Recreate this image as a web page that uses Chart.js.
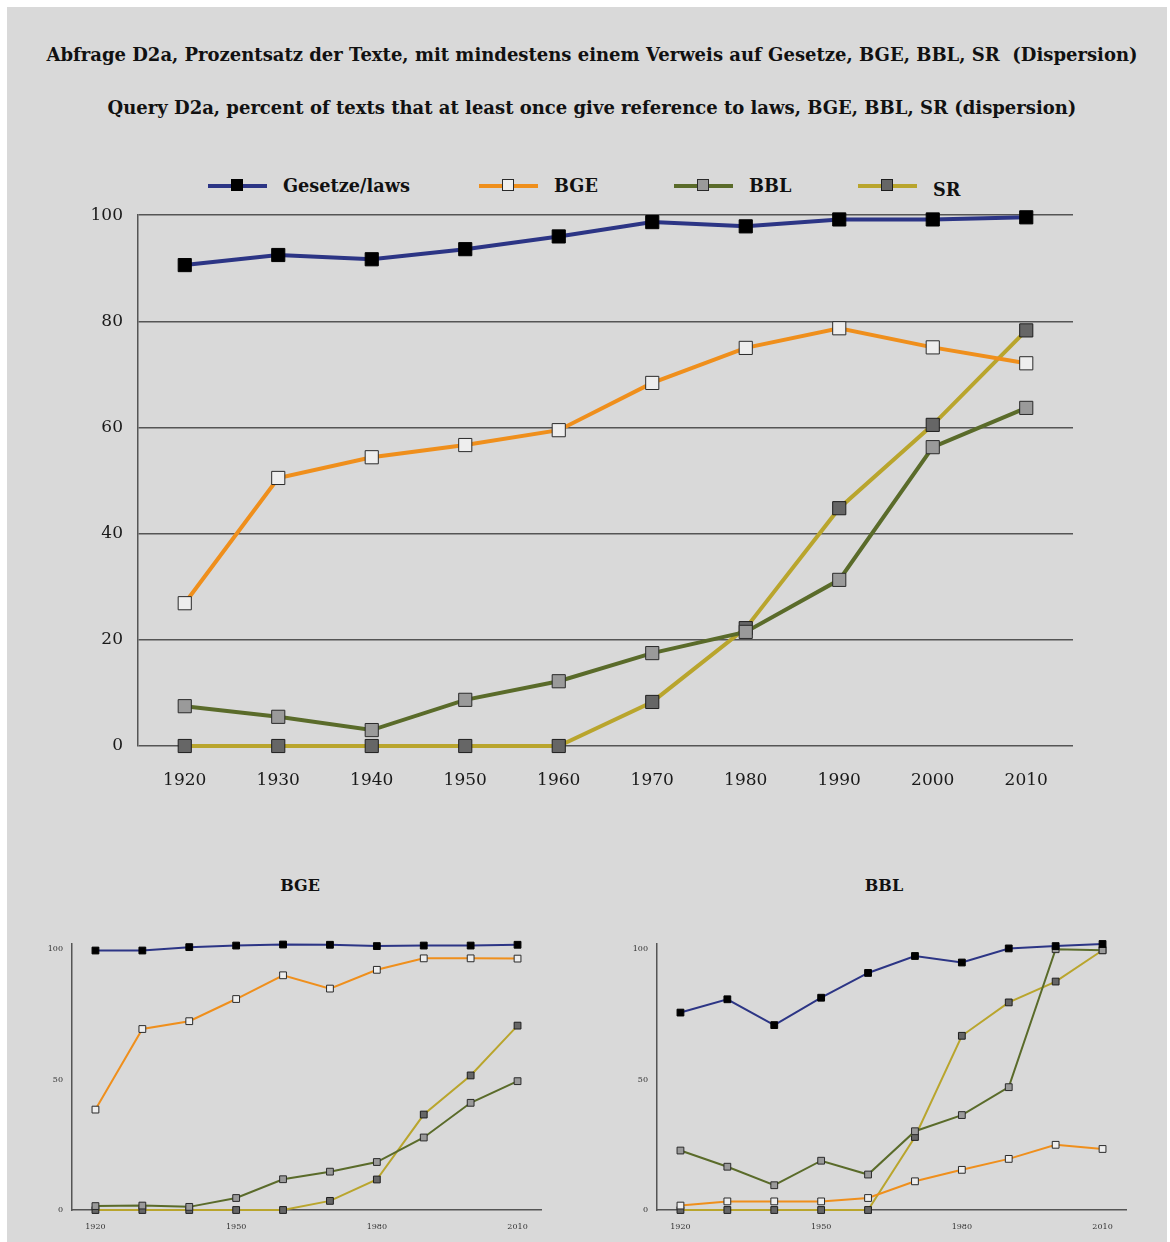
<!DOCTYPE html>
<html>
<head>
<meta charset="utf-8">
<script src="https://cdn.jsdelivr.net/npm/chart.js@4.4.1/dist/chart.umd.min.js"></script>
<style>
  html, body { margin: 0; padding: 0; background: #fff; }
  body { position: relative; width: 1170px; height: 1242px; overflow: hidden; font-family: 'DejaVu Serif', serif; color: #111; }
  #blatt { position: absolute; left: 7px; top: 7px; width: 1160px; height: 1235px; background: #d9d9d9; }
  .titel { position: absolute; left: 7px; width: 1170px; text-align: center; font-weight: bold; font-size: 18px; line-height: 20px; white-space: nowrap; }
  .legende { position: absolute; top: 177px; height: 18px; }
  .legende .linie { position: absolute; top: 7px; width: 59px; height: 4px; }
  .legende .punkt { position: absolute; top: 2px; width: 12px; height: 12px; box-sizing: border-box; border: 1px solid #222; }
  .legende .text { position: absolute; top: -2px; font-weight: bold; font-size: 17.7px; white-space: nowrap; }
  .box { position: absolute; }
  .untertitel { position: absolute; top: 876px; width: 200px; text-align: center; font-weight: bold; font-size: 16px; line-height: 20px; }
</style>
</head>
<body>
<div id="blatt"></div>
<div class="titel" style="top:45px">Abfrage D2a, Prozentsatz der Texte, mit mindestens einem Verweis auf Gesetze, BGE, BBL, SR&nbsp; (Dispersion)</div>
<div class="titel" style="top:98px">Query D2a, percent of texts that at least once give reference to laws, BGE, BBL, SR (dispersion)</div>

<div id="legende"></div>

<div class="box" style="left:0; top:190px; width:1170px; height:620px"><canvas id="grafikGesamt"></canvas></div>

<div class="untertitel" style="left:200px">BGE</div>
<div class="untertitel" style="left:784px">BBL</div>
<div class="box" style="left:0; top:860px; width:585px; height:382px"><canvas id="grafikBge"></canvas></div>
<div class="box" style="left:585px; top:860px; width:585px; height:382px"><canvas id="grafikBbl"></canvas></div>

<script>
const jahre = ['1920', '1930', '1940', '1950', '1960', '1970', '1980', '1990', '2000', '2010'];
const jahreKlein = ['1920', '1950', '1980', '2010'];
const yWerteGross = [0, 20, 40, 60, 80, 100];
const yWerteKlein = [0, 50, 100];

// Hauptgrafik
const gesetze = [90.6, 92.5, 91.7, 93.6, 96.0, 98.7, 97.9, 99.2, 99.2, 99.6];
const bge = [26.9, 50.5, 54.4, 56.7, 59.5, 68.4, 75.0, 78.7, 75.1, 72.1];
const bbl = [7.5, 5.5, 3.0, 8.7, 12.2, 17.5, 21.5, 31.3, 56.3, 63.7];
const sr = [0, 0, 0, 0, 0, 8.3, 22.2, 44.8, 60.5, 78.3];

// Teilgrafik BGE
const bgeGesetze = [99.5, 99.5, 100.8, 101.4, 101.8, 101.7, 101.2, 101.4, 101.4, 101.7];
const bgeBge = [38.5, 69.4, 72.4, 80.9, 90.0, 84.9, 92.1, 96.5, 96.5, 96.4];
const bgeBbl = [1.5, 1.7, 1.2, 4.6, 11.8, 14.7, 18.4, 27.8, 41.1, 49.4];
const bgeSr = [0, 0, 0, 0, 0, 3.5, 11.7, 36.6, 51.6, 70.7];

// Teilgrafik BBL
const bblGesetze = [75.7, 80.8, 70.9, 81.4, 90.9, 97.4, 94.9, 100.3, 101.2, 102.0];
const bblBge = [1.7, 3.3, 3.3, 3.3, 4.6, 11.0, 15.4, 19.6, 25.0, 23.4];
const bblBbl = [22.8, 16.6, 9.5, 18.9, 13.6, 30.2, 36.4, 47.1, 100.0, 99.6];
const bblSr = [0, 0, 0, 0, 0, 28.0, 66.8, 79.6, 87.6, 99.6];

const farben = {
  gesetze: { linie: '#2c3585', punkt: '#000000', rand: '#000000' },
  bge: { linie: '#ef8f1c', punkt: '#eeeeee', rand: '#2a2a2a' },
  bbl: { linie: '#5a6b2a', punkt: '#9a9a9a', rand: '#2a2a2a' },
  sr: { linie: '#b9a52d', punkt: '#666666', rand: '#1e1e1e' }
};

// Legende oben
const legendeEintraege = [
  { name: 'Gesetze/laws', farbe: farben.gesetze, x: 208, dy: 0 },
  { name: 'BGE', farbe: farben.bge, x: 479, dy: 0 },
  { name: 'BBL', farbe: farben.bbl, x: 674, dy: 0 },
  { name: 'SR', farbe: farben.sr, x: 858, dy: 4 }
];
const legende = document.getElementById('legende');
legendeEintraege.forEach(e => {
  const el = document.createElement('div');
  el.className = 'legende';
  el.style.left = e.x + 'px';
  el.innerHTML =
    '<div class="linie" style="left:0;background:' + e.farbe.linie + '"></div>' +
    '<div class="punkt" style="left:23px;background:' + e.farbe.punkt + ';border-color:' + e.farbe.rand + '"></div>' +
    '<div class="text" style="left:75px;top:' + (e.dy - 2) + 'px">' + e.name + '</div>';
  legende.appendChild(el);
});

function reihe(name, daten, farbe, dicke, radius) {
  return {
    label: name,
    data: daten,
    borderColor: farbe.linie,
    borderWidth: dicke,
    backgroundColor: farbe.punkt,
    pointBackgroundColor: farbe.punkt,
    pointBorderColor: farbe.rand,
    pointBorderWidth: 1,
    pointStyle: 'rect',
    pointRadius: radius,
    pointHoverRadius: radius,
    tension: 0,
    fill: false,
    clip: false
  };
}

const schrift = { family: "'DejaVu Serif', serif", size: 17 };

new Chart(document.getElementById('grafikGesamt'), {
  type: 'line',
  data: {
    labels: jahre,
    datasets: [
      reihe('Gesetze/laws', gesetze, farben.gesetze, 4, 9.3),
      reihe('BGE', bge, farben.bge, 4, 9.3),
      reihe('BBL', bbl, farben.bbl, 4, 9.3),
      reihe('SR', sr, farben.sr, 4, 9.3)
    ]
  },
  options: {
    responsive: true,
    maintainAspectRatio: false,
    animation: false,
    layout: { padding: { left: 60, right: 97, top: 25, bottom: 14 } },
    plugins: { legend: { display: false }, tooltip: { enabled: false } },
    scales: {
      x: {
        offset: true,
        grid: { display: false, drawTicks: false },
        border: { display: false },
        ticks: { font: schrift, color: '#1a1a1a', padding: 24, maxRotation: 0, autoSkip: false },
        afterFit: s => { s.height = 50; }
      },
      y: {
        min: 0,
        max: 100,
        afterBuildTicks: s => { s.ticks = yWerteGross.map(v => ({ value: v })); },
        afterFit: s => { s.width = 78; },
        grid: { color: '#555555', lineWidth: 1.5, drawTicks: false },
        border: { display: true, color: '#555555', width: 1.5 },
        ticks: { font: schrift, color: '#1a1a1a', padding: 15 }
      }
    }
  }
});

function kleineGrafik(id, g, b, bl, s) {
  const klein = { family: "'DejaVu Serif', serif", size: 8 };
  new Chart(document.getElementById(id), {
    type: 'line',
    data: {
      labels: jahre,
      datasets: [
        reihe('Gesetze/laws', g, farben.gesetze, 2, 4.8),
        reihe('BGE', b, farben.bge, 2, 4.8),
        reihe('BBL', bl, farben.bbl, 2, 4.8),
        reihe('SR', s, farben.sr, 2, 4.8)
      ]
    },
    options: {
      responsive: true,
      maintainAspectRatio: false,
      animation: false,
      layout: { padding: { left: 42, right: 44, top: 84, bottom: 7 } },
      plugins: { legend: { display: false }, tooltip: { enabled: false } },
      scales: {
        x: {
          offset: true,
          grid: { display: false, drawTicks: false },
          border: { display: true, color: '#555555', width: 1.5 },
          ticks: {
            font: klein, color: '#333333', padding: 12, maxRotation: 0, autoSkip: false,
            callback: (v, i) => jahreKlein.includes(jahre[i]) ? jahre[i] : ''
          },
          afterFit: sc => { sc.height = 25; }
        },
        y: {
          min: 0,
          max: 102,
          afterBuildTicks: sc => { sc.ticks = yWerteKlein.map(v => ({ value: v })); },
          afterFit: sc => { sc.width = 30; },
          grid: { display: false, drawTicks: false },
          border: { display: true, color: '#555555', width: 1.5 },
          ticks: { font: klein, color: '#333333', padding: 9 }
        }
      }
    }
  });
}

kleineGrafik('grafikBge', bgeGesetze, bgeBge, bgeBbl, bgeSr);
kleineGrafik('grafikBbl', bblGesetze, bblBge, bblBbl, bblSr);
</script>
</body>
</html>
